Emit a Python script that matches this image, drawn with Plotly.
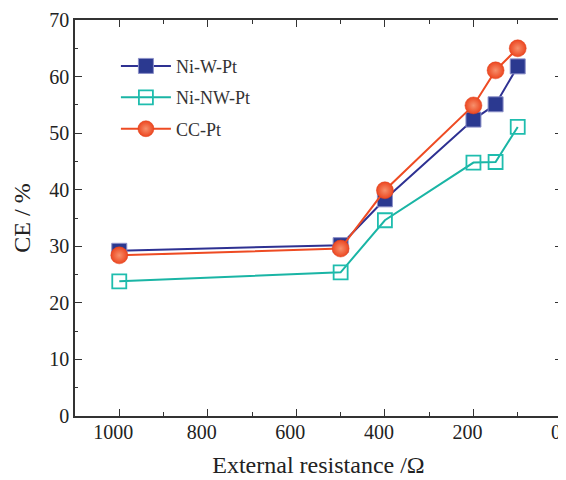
import plotly.graph_objects as go

resistance = [1000, 500, 400, 200, 150, 100]
ni_w_pt = [29.2, 30.2, 38.3, 52.4, 55.1, 61.8]
ni_nw_pt = [23.8, 25.4, 34.6, 44.8, 44.9, 51.1]
cc_pt = [28.4, 29.6, 39.9, 54.9, 61.1, 65.0]

FONT = "Liberation Serif"

fig = go.Figure()
fig.add_trace(go.Scatter(
    x=resistance, y=ni_w_pt, name="Ni-W-Pt", mode="lines+markers", legendgroup="a",
    line=dict(color="#2E3192", width=2),
    marker=dict(symbol="square", size=15, color="#2B3990",
                line=dict(color="#8C90C8", width=1))))
fig.add_trace(go.Scatter(
    x=resistance, y=ni_nw_pt, name="Ni-NW-Pt", mode="lines+markers", legendgroup="b",
    line=dict(color="#1AB5A5", width=2),
    marker=dict(symbol="square-open", size=14, color="#1FBDAE",
                line=dict(color="#1FBDAE", width=1.8))))
fig.add_trace(go.Scatter(
    x=resistance, y=cc_pt, name="CC-Pt", mode="lines+markers", legendgroup="c",
    line=dict(color="#EE4B23", width=2),
    marker=dict(symbol="circle", size=17, color="#EC4620",
                gradient=dict(type="radial", color="#F7906C"),
                line=dict(color="#E0401A", width=0.5))))

axis_common = dict(
    showline=True, linecolor="#333333", linewidth=1.5, mirror="allticks",
    ticks="inside", ticklen=7, tickwidth=1.2, tickcolor="#333333",
    showgrid=False, zeroline=False, automargin=False,
    ticklabeloverflow="allow",
    tickfont=dict(family=FONT, size=20, color="#222222"),
)

fig.update_xaxes(
    range=[1100, 0], tickmode="linear", tick0=0, dtick=200,
    minor=dict(ticks="inside", ticklen=4, dtick=100, tick0=0, tickcolor="#333333"),
    ticklabelshift=6, ticklabelstandoff=-3,
    title=dict(text="External resistance /Ω", font=dict(family=FONT, size=24, color="#222222"), standoff=14),
    **axis_common)
fig.update_yaxes(
    range=[0, 70], tickmode="linear", tick0=0, dtick=10,
    minor=dict(ticks="inside", ticklen=3, dtick=5, tick0=0, tickcolor="#333333"),
    title=dict(text="CE / %", font=dict(family=FONT, size=24, color="#222222"), standoff=12),
    **axis_common)

fig.update_layout(
    width=558, height=472,
    margin=dict(l=67, r=4, t=12, b=64),
    plot_bgcolor="white", paper_bgcolor="white",
    showlegend=True,
    legend=dict(x=0.084, y=0.93, xanchor="left", yanchor="top",
                font=dict(family=FONT, size=18, color="#333333"),
                bgcolor="rgba(0,0,0,0)", tracegroupgap=5, itemwidth=50),
)

fig.write_html("out.html")
